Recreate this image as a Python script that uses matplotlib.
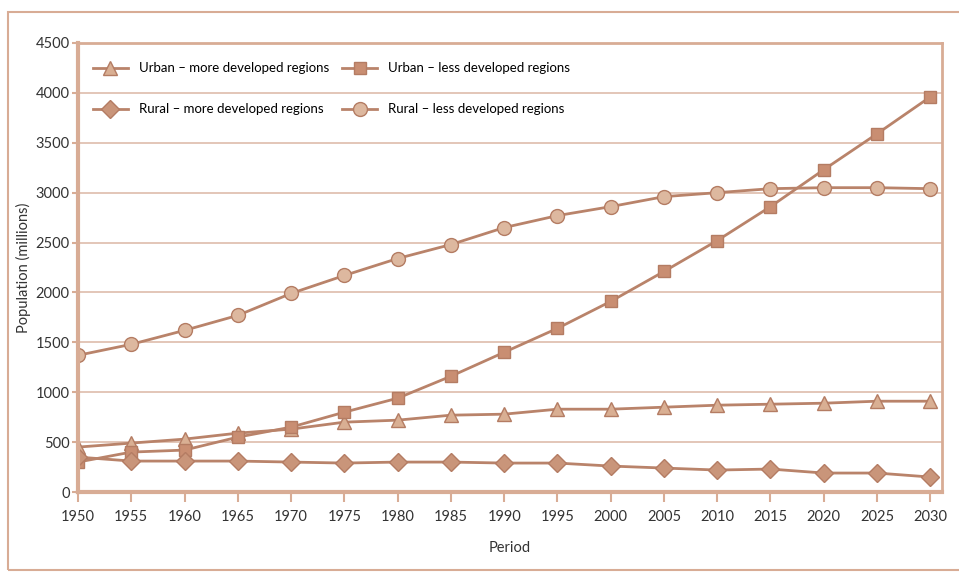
import matplotlib.pyplot as plt
from matplotlib.patches import Rectangle

years = [1950, 1955, 1960, 1965, 1970, 1975, 1980, 1985, 1990,
         1995, 2000, 2005, 2010, 2015, 2020, 2025, 2030]

urban_more = [450, 490, 530, 590, 630, 700, 720, 770, 780,
              830, 830, 850, 870, 880, 890, 910, 910]
urban_less = [300, 400, 420, 550, 650, 800, 940, 1160, 1400,
              1640, 1910, 2210, 2520, 2860, 3230, 3590, 3960]
rural_more = [350, 310, 310, 310, 300, 290, 300, 300, 290,
              290, 260, 240, 220, 230, 190, 190, 150]
rural_less = [1370, 1480, 1620, 1770, 1990, 2170, 2340, 2480, 2650,
              2770, 2860, 2960, 3000, 3040, 3050, 3050, 3040]

labels = ["Urban \u2013 more developed regions", "Urban \u2013 less developed regions",
          "Rural \u2013 more developed regions", "Rural \u2013 less developed regions"]

line_c = "#B9836A"
edge_c = "#B47C63"
grid_c = "#E3C6B8"
spine_c = "#D8AC95"
text_c = "#333333"

plt.rcParams['font.family'] = ['Lato', 'DejaVu Sans']

fig = plt.figure(figsize=(9.59, 5.72), dpi=100)
ax = fig.add_axes([78 / 959, 1 - 492 / 572, (942 - 78) / 959, (492 - 43) / 572])

# outer frame round the whole chart
fig.patches.append(Rectangle((8 / 959, 1 - 570 / 572), 1.0, (570 - 12) / 572,
                             transform=fig.transFigure, fill=False,
                             edgecolor=spine_c, linewidth=1.5))

l1, = ax.plot(years, urban_more, color=line_c, lw=2, marker='^', ms=10,
              mfc="#D9AF93", mec=edge_c, mew=1, label=labels[0])
l2, = ax.plot(years, urban_less, color=line_c, lw=2, marker='s', ms=9,
              mfc="#C98E72", mec=edge_c, mew=1, label=labels[1])
l3, = ax.plot(years, rural_more, color=line_c, lw=2, marker='D', ms=9,
              mfc="#C9957A", mec=edge_c, mew=1, label=labels[2])
l4, = ax.plot(years, rural_less, color=line_c, lw=2, marker='o', ms=10,
              mfc="#DDB89F", mec=edge_c, mew=1, label=labels[3])

ax.set_xlim(1950, 2031.1)
ax.set_ylim(0, 4500)
ax.set_xticks(years)
ax.set_yticks(range(0, 4501, 500))
ax.grid(axis='y', color=grid_c, lw=1.4)
ax.set_axisbelow(True)
ax.tick_params(axis='both', colors=spine_c, labelcolor=text_c, labelsize=10.5)
ax.tick_params(axis='x', length=7, width=1.5, pad=6)
ax.tick_params(axis='y', length=4, width=1.5, pad=2)

for s in ['left', 'bottom']:
    ax.spines[s].set_color(spine_c)
    ax.spines[s].set_linewidth(3)
for s in ['top', 'right']:
    ax.spines[s].set_color(spine_c)
    ax.spines[s].set_linewidth(2)

ax.set_xlabel("Period", fontsize=10.5, color=text_c, labelpad=12)
ax.set_ylabel("Population (millions)", fontsize=10.5, color=text_c, labelpad=3)

ax.legend(handles=[l1, l3, l2, l4], ncol=2, loc='upper left',
          bbox_to_anchor=(15 / 864, 0.957), frameon=False, fontsize=9.5,
          borderpad=0, borderaxespad=0,
          handlelength=2.65, labelspacing=2.2, columnspacing=1.0,
          handletextpad=0.83)

fig.savefig("out.png", dpi=100)
